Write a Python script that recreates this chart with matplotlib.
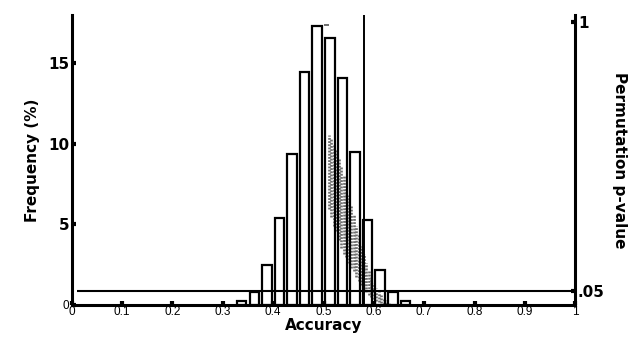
import matplotlib
matplotlib.use('Agg')
import matplotlib.pyplot as plt

# histogram of permutation accuracies (bin centres, frequency in %)
bin_centres = [0.3375, 0.3625, 0.3875, 0.4125, 0.4375, 0.4625, 0.4875,
               0.5125, 0.5375, 0.5625, 0.5875, 0.6125, 0.6375, 0.6625]
freq_pct = [0.25, 0.8, 2.5, 5.4, 9.4, 14.5, 17.3,
            16.6, 14.1, 9.5, 5.3, 2.2, 0.8, 0.25]

# permutation p-value cloud: column accuracy, lowest and highest p in the column
cloud_acc = [0.51, 0.515, 0.52, 0.525, 0.53, 0.535, 0.54, 0.545, 0.55, 0.555,
             0.56, 0.565, 0.57, 0.575, 0.58, 0.585, 0.59, 0.595, 0.60, 0.605,
             0.61, 0.615, 0.62, 0.625, 0.63, 0.635]
cloud_p_low = [0.34, 0.31, 0.28, 0.26, 0.23, 0.20, 0.18, 0.17, 0.15, 0.13,
               0.12, 0.10, 0.085, 0.07, 0.057, 0.046, 0.035, 0.028, 0.021, 0.014,
               0.011, 0.007, 0.004, 0.003, 0.001, 0.0]
cloud_p_high = [0.60, 0.59, 0.57, 0.55, 0.52, 0.49, 0.46, 0.42, 0.39, 0.35,
                0.32, 0.28, 0.25, 0.21, 0.18, 0.15, 0.12, 0.10, 0.078, 0.06,
                0.046, 0.035, 0.025, 0.018, 0.01, 0.004]

observed_acc = 0.58
alpha = 0.05
peak_mark = (0.5, 0.51, 17.4)

bold = dict(fontweight='bold', family='DejaVu Sans')

fig = plt.figure(figsize=(6.3, 3.41), dpi=100)
ax = fig.add_axes([0.114, 0.1056, 0.799, 0.85])
ax2 = ax.twinx()

# right axis: p-values
ax2.vlines(cloud_acc, cloud_p_low, cloud_p_high, colors='#6e6e6e',
           linestyles=(0, (0.7, 0.5)), linewidth=1.9, zorder=1)
ax2.hlines(alpha, 0.01, 1.0, colors='black', linewidth=1.5)
ax2.set_ylim(0, 1.025)
ax2.set_yticks([alpha, 1])
ax2.set_yticklabels(['.05', '1'], fontsize=11, **bold)
ax2.set_ylabel('Permutation p-value', rotation=-90, labelpad=16, fontsize=11, **bold)

# left axis: histogram
ax.set_zorder(ax2.get_zorder() + 1)
ax.patch.set_visible(False)
ax.bar(bin_centres, freq_pct, width=0.019, fill=False, edgecolor='black', linewidth=1.6)
ax.axvline(observed_acc, color='black', linewidth=1.4)
ax.hlines(peak_mark[2], peak_mark[0], peak_mark[1], colors='#555555', linewidth=1.2)
ax.set_xlim(0, 1)
ax.set_ylim(0, 18)
ax.set_xticks([i / 10 for i in range(11)])
ax.set_xticklabels(['0', '0.1', '0.2', '0.3', '0.4', '0.5', '0.6', '0.7', '0.8', '0.9', '1'],
                   fontsize=8.5, family='Liberation Sans')
ax.set_yticks([0, 5, 10, 15])
ax.set_yticklabels(['0', '5', '10', '15'], fontsize=11, **bold)
ylabs = ax.get_yticklabels()
ylabs[0].set_fontsize(8.5)
ylabs[0].set_fontweight('normal')
ylabs[0].set_family('Liberation Sans')
ax.set_xlabel('Accuracy', fontsize=11, labelpad=0, **bold)
ax.set_ylabel('Frequency (%)', fontsize=11, labelpad=6, **bold)

for a in (ax, ax2):
    a.spines['top'].set_visible(False)
    for s in ('left', 'right', 'bottom'):
        a.spines[s].set_linewidth(2.2)
    a.tick_params(direction='in', length=3, width=3, pad=2)
ax.tick_params(axis='x', pad=1)
ax2.spines['left'].set_visible(False)
ax2.spines['bottom'].set_visible(False)
ax.spines['right'].set_visible(False)

fig.savefig('out.png', dpi=100)
